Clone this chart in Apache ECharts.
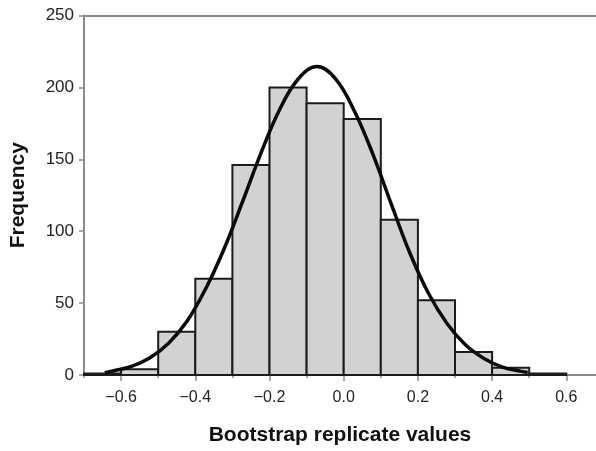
<!DOCTYPE html>
<html>
<head>
<meta charset="utf-8">
<script src="https://cdn.jsdelivr.net/npm/echarts@6/dist/echarts.min.js"></script>
<style>
  html, body { margin: 0; padding: 0; background: #fff; }
  #chart { width: 596px; height: 451px; }
</style>
</head>
<body>
<div id="chart"></div>
<script>
// Histogram of bootstrap replicates: bin edges and counts
const binStarts = [-0.7, -0.6, -0.5, -0.4, -0.3, -0.2, -0.1, 0.0, 0.1, 0.2, 0.3, 0.4, 0.5];
const binEnds   = [-0.6, -0.5, -0.4, -0.3, -0.2, -0.1, 0.0, 0.1, 0.2, 0.3, 0.4, 0.5, 0.6];
const counts    = [1, 4, 30, 67, 146, 200, 189, 178, 108, 52, 16, 5, 1];

// Fitted normal curve, sampled points (peak near -0.072)
const curveX = [-0.644, -0.622, -0.572, -0.522, -0.472, -0.422, -0.372, -0.322, -0.272, -0.222, -0.172, -0.122, -0.072,
                -0.022, 0.028, 0.078, 0.128, 0.178, 0.228, 0.278, 0.328, 0.378, 0.428, 0.478, 0.496];
const curveY = [1.5, 2.8, 6, 12, 22, 37.5, 60, 88, 121, 155, 185, 206, 214.5,
                206, 184, 154, 119, 85, 57, 36, 21, 11.5, 5.5, 2.5, 1.8];

// Axis ticks
const xMajorTicks = [-0.6, -0.4, -0.2, 0.0, 0.2, 0.4, 0.6];
const xMinorTicks = [-0.7, -0.5, -0.3, -0.1, 0.1, 0.3, 0.5];
const yTicks = [0, 50, 100, 150, 200, 250];

const axisGray = '#8a8a8a';
const textColor = '#222';
const font = 'Liberation Sans, Arial, Helvetica, sans-serif';

const histData = binStarts.map((s, i) => [s, binEnds[i], counts[i]]);
const curveData = curveX.map((x, i) => [x, curveY[i]]);

const chart = echarts.init(document.getElementById('chart'), null, { renderer: 'canvas' });

chart.setOption({
  animation: false,
  backgroundColor: '#fff',
  grid: { left: 81.5, right: 0, top: 15.5, bottom: 70, containLabel: false },
  xAxis: [
    {
      type: 'value', min: -0.7, max: 0.68, position: 'bottom',
      name: 'Bootstrap replicate values', nameLocation: 'middle', nameGap: 50,
      nameTextStyle: { fontFamily: font, fontWeight: 'bold', fontSize: 21, color: '#111' },
      axisLine: { show: true, onZero: false, lineStyle: { color: axisGray, width: 2 } },
      axisTick: { show: true, length: 6, customValues: xMajorTicks, lineStyle: { color: axisGray, width: 1.5 } },
      axisLabel: {
        customValues: xMajorTicks, margin: 15,
        fontFamily: font, fontSize: 16, color: textColor,
        formatter: v => (v < 0 ? '\u2212' : '') + Math.abs(v).toFixed(1)
      },
      splitLine: { show: false }
    },
    {
      type: 'value', min: -0.7, max: 0.68, position: 'bottom',
      axisLine: { show: false, onZero: false },
      axisTick: { show: true, length: 3, customValues: xMinorTicks, lineStyle: { color: axisGray, width: 1.5 } },
      axisLabel: { show: false },
      splitLine: { show: false }
    },
    {
      type: 'value', min: -0.7, max: 0.68, position: 'top',
      axisLine: { show: true, onZero: false, lineStyle: { color: axisGray, width: 2 } },
      axisTick: { show: false }, axisLabel: { show: false }, splitLine: { show: false }
    }
  ],
  yAxis: {
    type: 'value', min: 0, max: 250, interval: 50,
    name: 'Frequency', nameLocation: 'middle', nameGap: 55, nameRotate: 90,
    nameTextStyle: { fontFamily: font, fontWeight: 'bold', fontSize: 21, color: '#111' },
    axisLine: { show: true, onZero: false, lineStyle: { color: axisGray, width: 2 } },
    axisTick: { show: true, length: 5, customValues: yTicks, lineStyle: { color: axisGray, width: 1.5 } },
    axisLabel: { customValues: yTicks, margin: 10, fontFamily: font, fontSize: 17, color: textColor },
    splitLine: { show: false }
  },
  series: [
    {
      type: 'custom',
      xAxisIndex: 0,
      data: histData,
      encode: { x: [0, 1], y: 2 },
      renderItem: function (params, api) {
        const p0 = api.coord([api.value(0), 0]);
        const p1 = api.coord([api.value(1), api.value(2)]);
        return {
          type: 'rect',
          shape: { x: p0[0], y: p1[1], width: p1[0] - p0[0], height: p0[1] - p1[1] },
          style: { fill: '#d2d2d2', stroke: '#1c1c1c', lineWidth: 2 }
        };
      },
      z: 2
    },
    {
      type: 'line',
      xAxisIndex: 0,
      data: curveData,
      smooth: 0.4,
      showSymbol: false,
      lineStyle: { color: '#0a0a0a', width: 3.5 },
      z: 3
    }
  ]
});
</script>
</body>
</html>
